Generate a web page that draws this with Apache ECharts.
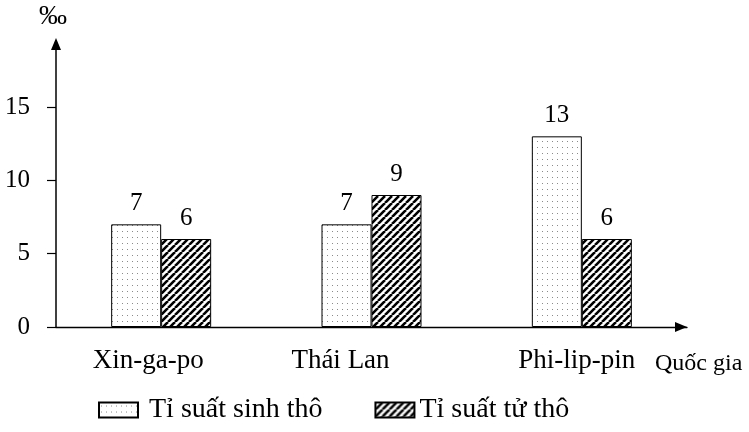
<!DOCTYPE html>
<html><head><meta charset="utf-8">
<script src="https://cdn.jsdelivr.net/npm/echarts@6/dist/echarts.min.js"></script>
<style>html,body{margin:0;padding:0;background:#fff}#c{width:749px;height:432px}</style>
</head><body><div id="c"></div>
<script>
const categories = ['Xin-ga-po', 'Thái Lan', 'Phi-lip-pin'];
const birthRate = [7, 7, 13];
const deathRate = [6, 9, 6];
const yTicks = [0, 5, 10, 15];
const seriesNames = ['Tỉ suất sinh thô', 'Tỉ suất tử thô'];
const xName = 'Quốc gia';
const yName = '‰';

const FONT = 'Liberation Serif';

function dotPattern() {
  const c = document.createElement('canvas');
  c.width = 5; c.height = 6;
  const g = c.getContext('2d');
  g.fillStyle = '#fff'; g.fillRect(0, 0, 5, 6);
  g.fillStyle = '#8a8a8a'; g.fillRect(2, 3, 1, 1);
  return c;
}
function hatchPattern() {
  const s = 7;
  const c = document.createElement('canvas');
  c.width = s; c.height = s;
  const g = c.getContext('2d');
  g.fillStyle = '#fff'; g.fillRect(0, 0, s, s);
  g.strokeStyle = '#000'; g.lineWidth = 2.6;
  g.beginPath();
  for (let k = -1; k <= 1; k++) { g.moveTo(k * s, s); g.lineTo(k * s + s, 0); }
  g.stroke();
  return c;
}

const chart = echarts.init(document.getElementById('c'), null, { renderer: 'canvas' });
const labelStyle = { show: true, position: 'top', distance: 8, fontSize: 25, fontFamily: FONT, color: '#000' };
const richKeys = ['a', 'b', 'c'];
const rb = { fontSize: 27, fontFamily: FONT, color: '#000' };

chart.setOption({
  animation: false,
  backgroundColor: '#fff',
  textStyle: { fontFamily: FONT, color: '#000' },
  grid: { left: 56, right: 62, top: 41, bottom: 105, containLabel: false, outerBoundsMode: 'none' },
  legend: {
    left: 93, top: 391, itemWidth: 39, itemHeight: 15, itemGap: 52, icon: 'rect',
    textStyle: { fontFamily: FONT, fontSize: 28, color: '#000' },
    data: [{ name: seriesNames[0], textStyle: { padding: [0, 0, 0, 6] } }, { name: seriesNames[1] }]
  },
  xAxis: {
    type: 'category', data: categories,
    name: xName, nameLocation: 'end', nameGap: -32,
    nameTextStyle: { fontFamily: FONT, fontSize: 24, color: '#000', verticalAlign: 'top', padding: [25, 0, 0, 0] },
    axisLine: { show: true, lineStyle: { color: '#000', width: 1.3 }, symbol: ['none', 'triangle'], symbolSize: [10, 12], symbolOffset: [0, -6] },
    axisTick: { show: false },
    axisLabel: {
      margin: 20, fontSize: 27, fontFamily: FONT, color: '#000',
      formatter: (v, i) => '{' + richKeys[i] + '|' + v + '}',
      rich: {
        a: Object.assign({ padding: [0, 26, 0, 0] }, rb),
        b: Object.assign({ padding: [0, 62, 0, 0] }, rb),
        c: Object.assign({ padding: [0, 10, 0, 0] }, rb)
      }
    },
    splitLine: { show: false }
  },
  yAxis: {
    type: 'value', min: 0, max: 19.5, interval: 5,
    name: yName, nameLocation: 'end', nameGap: 10,
    nameTextStyle: { fontFamily: FONT, fontSize: 28, color: '#000', align: 'center', padding: [0, 6, 0, 0] },
    axisLine: { show: true, lineStyle: { color: '#000', width: 1.5 }, symbol: ['none', 'triangle'], symbolSize: [10, 12], symbolOffset: [0, -3] },
    axisTick: { show: true, length: 9, lineStyle: { color: '#000', width: 1.2 }, customValues: yTicks },
    axisLabel: { customValues: yTicks, margin: 26, fontSize: 25, fontFamily: FONT, color: '#000' },
    splitLine: { show: false }
  },
  series: [
    {
      name: seriesNames[0], type: 'bar', data: birthRate, barWidth: 50, barGap: '0%',
      itemStyle: { color: { image: dotPattern(), repeat: 'repeat' }, borderColor: '#000', borderWidth: 1 },
      label: labelStyle
    },
    {
      name: seriesNames[1], type: 'bar', data: deathRate, barWidth: 50, barGap: '0%',
      itemStyle: { color: { image: hatchPattern(), repeat: 'repeat' }, borderColor: '#000', borderWidth: 1 },
      label: labelStyle
    }
  ]
});
</script>
</body></html>
